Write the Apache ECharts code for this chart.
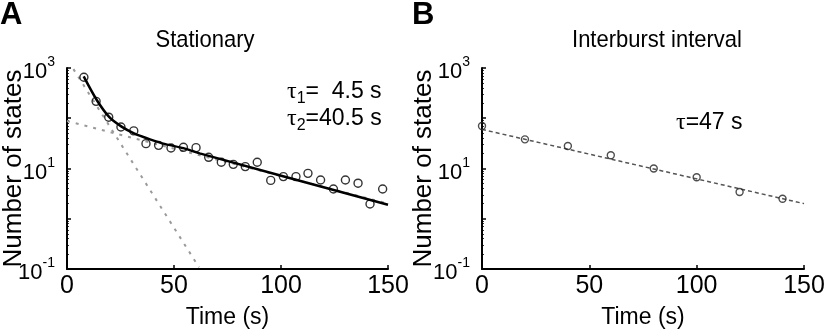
<!DOCTYPE html>
<html>
<head>
<meta charset="utf-8">
<script src="https://cdn.jsdelivr.net/npm/echarts@6/dist/echarts.min.js"></script>
<style>
  html, body { margin: 0; padding: 0; background: #fff; }
  #chart { width: 824px; height: 334px; }
</style>
</head>
<body>
<div id="chart"></div>
<script>
// panel A – stationary
const stationaryTime = [7.9, 13.6, 19.5, 25.2, 31.2, 36.9, 42.8, 48.6, 54.4, 60.3, 66.2, 72.1, 77.7, 83.3, 88.9, 95.2, 101.1, 107, 112.6, 118.5, 124.5, 130.1, 136, 141.6, 147.5]
const stationaryCount = [653, 217, 105, 67, 56, 31.2, 28.9, 25.6, 26.4, 26.0, 16.7, 13.3, 12.1, 10.9, 13.3, 5.8, 6.9, 6.9, 8.0, 5.9, 3.9, 5.9, 5.1, 1.97, 3.9]
// double exponential fit
const fitTime = [7.8, 13.9, 19.8, 25.5, 31.3, 38.8, 46, 54.4, 62, 150]
const fitCount = [680, 231, 105, 68, 50, 38, 30.5, 25.4, 20, 1.9]
// the two components (dashed grey)
const fastTime = [3, 61.7]
const fastCount = [950, 0.108]
const slowTime = [0, 150]
const slowCount = [88, 2.0]

// panel B – interburst interval
const burstTime = [0, 20, 40, 60, 80, 100, 120, 140]
const burstCount = [70, 38, 28, 18.3, 10, 6.7, 3.4, 2.5]
const burstFitTime = [0, 150]
const burstFitCount = [60, 2.0]

const xTicks = { min: 0, max: 150, interval: 50 }
const yRange = { min: 0.1, max: 1000 }

const FONT = 'Liberation Sans, Arial, sans-serif'
const zip = (xs, ys) => xs.map((x, i) => [x, ys[i]])

const chart = echarts.init(document.getElementById('chart'))

const xAxisBase = (gridIndex) => ({
  gridIndex,
  type: 'value',
  ...xTicks,
  name: 'Time (s)',
  nameLocation: 'middle',
  nameGap: 37,
  nameMoveOverlap: false,
  nameTextStyle: { fontSize: 23, fontFamily: FONT, color: '#000' },
  axisLine: { onZero: false, lineStyle: { color: '#000', width: 2 } },
  axisTick: { inside: true, length: 4, lineStyle: { color: '#000', width: 1.5 } },
  axisLabel: { fontSize: 25, fontFamily: FONT, color: '#000', margin: 5 },
  splitLine: { show: false }
})

const yAxisBase = (gridIndex, gap) => ({
  gridIndex,
  type: 'log',
  logBase: 10,
  ...yRange,
  name: 'Number of states',
  nameLocation: 'middle',
  nameGap: gap,
  nameMoveOverlap: false,
  nameTextStyle: { fontSize: 26, fontFamily: FONT, color: '#000' },
  axisLine: { lineStyle: { color: '#000', width: 2 } },
  axisTick: { inside: true, length: 4, lineStyle: { color: '#000', width: 1.5 } },
  minorTick: { show: true, splitNumber: 9, length: 2, lineStyle: { color: '#000', width: 0.8 } },
  axisLabel: {
    margin: 12,
    formatter: (v) => {
      const e = Math.round(Math.log10(v))
      return e % 2 ? '{b|10}{e|' + e + '}' : ''
    },
    rich: {
      b: { fontSize: 22, fontFamily: FONT, color: '#000', padding: [8, 0, 0, 0] },
      e: { fontSize: 14, fontFamily: FONT, color: '#000', padding: [0, 0, 11, 0] }
    }
  },
  splitLine: { show: false }
})

const tauRich = {
  t: { fontSize: 24, fontFamily: 'Liberation Serif, serif', color: '#000' },
  s: { fontSize: 16, fontFamily: FONT, color: '#000', padding: [13, 0, 0, 0] },
  v: { fontSize: 23, fontFamily: FONT, color: '#000' }
}

const option = {
  animation: false,
  backgroundColor: '#fff',
  grid: [
    { left: 67, top: 68, width: 321, height: 201, outerBoundsMode: 'none' },
    { left: 482, top: 68, width: 322, height: 201, outerBoundsMode: 'none' }
  ],
  xAxis: [xAxisBase(0), xAxisBase(1)],
  yAxis: [yAxisBase(0, 40), yAxisBase(1, 45)],
  graphic: [
    { type: 'text', left: 0, top: 0, style: { text: 'A', font: 'bold 31px ' + FONT, fill: '#000' } },
    { type: 'text', left: 412, top: 0, style: { text: 'B', font: 'bold 31px ' + FONT, fill: '#000' } },
    { type: 'text', x: 205, y: 46, scaleY: 1.12, originY: 46, style: { text: 'Stationary', fontSize: 22, fontFamily: FONT, fill: '#000', align: 'center', verticalAlign: 'middle' } },
    { type: 'text', x: 657, y: 46, scaleY: 1.12, originY: 46, style: { text: 'Interburst interval', fontSize: 22, fontFamily: FONT, fill: '#000', align: 'center', verticalAlign: 'middle' } },
    { type: 'text', x: 287, y: 92, style: { text: '{t|τ}{s|1}{v|=  4.5 s}', rich: tauRich, verticalAlign: 'middle' } },
    { type: 'text', x: 287, y: 119, style: { text: '{t|τ}{s|2}{v|=40.5 s}', rich: tauRich, verticalAlign: 'middle' } },
    { type: 'text', x: 676, y: 123, style: { text: '{t|τ}{v|=47 s}', rich: tauRich, verticalAlign: 'middle' } }
  ],
  series: [
    {
      type: 'line', xAxisIndex: 0, yAxisIndex: 0, data: zip(fastTime, fastCount),
      showSymbol: false, silent: true, z: 1,
      lineStyle: { color: '#9a9a9a', width: 2, type: [3, 6] }
    },
    {
      type: 'line', xAxisIndex: 0, yAxisIndex: 0, data: zip(slowTime, slowCount),
      showSymbol: false, silent: true, z: 1,
      lineStyle: { color: '#9a9a9a', width: 2, type: [3, 6] }
    },
    {
      type: 'line', xAxisIndex: 0, yAxisIndex: 0, data: zip(fitTime, fitCount),
      showSymbol: false, silent: true, z: 2, smooth: 0.3,
      lineStyle: { color: '#000', width: 2.5 }
    },
    {
      type: 'scatter', xAxisIndex: 0, yAxisIndex: 0, data: zip(stationaryTime, stationaryCount),
      symbol: 'circle', symbolSize: 8, z: 3,
      itemStyle: { color: 'rgba(0,0,0,0)', borderColor: '#000', borderWidth: 1.4 }
    },
    {
      type: 'line', xAxisIndex: 1, yAxisIndex: 1, data: zip(burstFitTime, burstFitCount),
      showSymbol: false, silent: true, z: 1,
      lineStyle: { color: '#555', width: 1.5, type: [4, 3] }
    },
    {
      type: 'scatter', xAxisIndex: 1, yAxisIndex: 1, data: zip(burstTime, burstCount),
      symbol: 'circle', symbolSize: 7, z: 3,
      itemStyle: { color: 'rgba(0,0,0,0)', borderColor: '#222', borderWidth: 1.4 }
    }
  ]
}

chart.setOption(option)
window.addEventListener('resize', () => chart.resize())
</script>
</body>
</html>
